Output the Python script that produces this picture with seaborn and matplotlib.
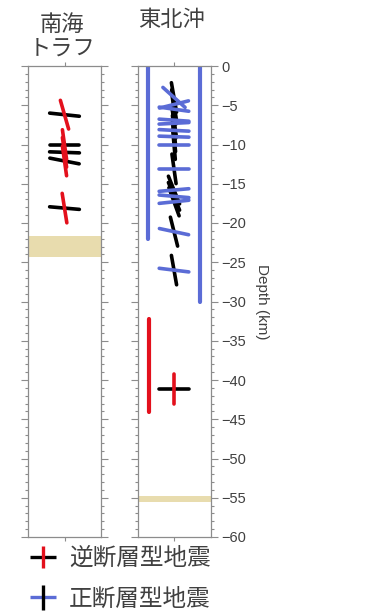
import numpy as np
import pandas as pd
import seaborn as sns
import matplotlib.pyplot as plt
from matplotlib.lines import Line2D
from matplotlib.legend_handler import HandlerTuple

# --- data (depth in km, tilt angles in degrees) ---
# Nankai trough: reverse-fault events (black = horizontal axis, red = vertical axis)
nankai_depth = [6.2, 10.0, 11.0, 12.1, 18.1]
nankai_black_tilt = [-6, 0, -2, -11, -5]
nankai_red_tilt = [-16, -8, -8, -8, -9]
nankai_band = (21.6, 24.3)

# Off Tohoku: normal-fault events (blue = horizontal axis, black = vertical axis)
tohoku_depth = [4.0, 4.9, 5.5, 6.9, 7.3, 8.2, 9.0, 10.0, 13.1, 15.8, 16.6, 17.3, 21.1, 26.0]
tohoku_blue_tilt = [-42, 14, -8, -4, 3, -3, -2, 0, 0, 5, -5, 6, -12, -7]
tohoku_black_tilt = [-10, -9, -8, -8, -7, -6, -6, -5, -8, -22, -22, -20, -14, -10]
# one deep reverse-fault event off Tohoku
tohoku_rev_depth = [41.1]
tohoku_rev_black_tilt = [0]
tohoku_rev_red_tilt = [0]
# depth ranges (top, bottom, type)
range_top = [0.0, 0.0, 32.2]
range_bottom = [22.0, 30.0, 44.1]
range_kind = ['normal', 'normal', 'reverse']
tohoku_band = (54.8, 55.6)

BAR = 3.8  # bar length in km units
RED = '#e3101c'
BLUE = '#5b6cd6'
TAN = '#e8dcae'
GREY = '#8c8c8c'
TXT = '#404040'


def bars(depths, tilts, color, vertical, start=0):
    rows = []
    for i, (d, t) in enumerate(zip(depths, tilts)):
        r = np.radians(t)
        if vertical:
            dx, dy = np.sin(r) * BAR / 2, np.cos(r) * BAR / 2
        else:
            dx, dy = np.cos(r) * BAR / 2, np.sin(r) * BAR / 2
        for s in (-1, 1):
            rows.append({'seg': f'{color}{start + i}', 'x': s * dx, 'y': -d + s * dy, 'c': color})
    return rows


sns.set_style('ticks')
plt.rcParams['font.family'] = ['Noto Sans CJK JP', 'DejaVu Sans']

fig = plt.figure(figsize=(3.82, 6.13), dpi=100)
W, H = 382, 613
top, bot = 66, 537
ax1 = fig.add_axes([28 / W, 1 - bot / H, 73 / W, (bot - top) / H])
ax2 = fig.add_axes([137.5 / W, 1 - bot / H, 73 / W, (bot - top) / H])

pal = {'black': 'black', 'red': RED, 'blue': BLUE}

# left panel
ax1.axhspan(-nankai_band[1], -nankai_band[0], color=TAN, lw=0, zorder=0)
df1 = pd.DataFrame(bars(nankai_depth, nankai_black_tilt, 'black', False)
                   + bars(nankai_depth, nankai_red_tilt, 'red', True))
sns.lineplot(data=df1, x='x', y='y', hue='c', units='seg', estimator=None, sort=False,
             palette=pal, hue_order=['black', 'red'], linewidth=2.6, legend=False, ax=ax1)

# right panel
ax2.axhspan(-tohoku_band[1], -tohoku_band[0], color=TAN, lw=0, zorder=0)
rx = {'normal': [-3.3, 3.3], 'reverse': [-3.2]}
rng = []
k = {'normal': 0, 'reverse': 0}
for t, b, kind in zip(range_top, range_bottom, range_kind):
    x = rx[kind][k[kind]]
    k[kind] += 1
    c = 'blue' if kind == 'normal' else 'red'
    rng += [{'seg': f'r{t}{b}', 'x': x, 'y': -t, 'c': c}, {'seg': f'r{t}{b}', 'x': x, 'y': -b, 'c': c}]
sns.lineplot(data=pd.DataFrame(rng), x='x', y='y', hue='c', units='seg', estimator=None, sort=False,
             palette=pal, linewidth=3.0, legend=False, ax=ax2)

df2 = pd.DataFrame(bars(tohoku_depth, tohoku_black_tilt, 'black', True)
                   + bars(tohoku_rev_depth, tohoku_rev_black_tilt, 'black', False, start=100)
                   + bars(tohoku_depth, tohoku_blue_tilt, 'blue', False)
                   + bars(tohoku_rev_depth, tohoku_rev_red_tilt, 'red', True, start=100))
sns.lineplot(data=df2, x='x', y='y', hue='c', units='seg', estimator=None, sort=False,
             palette=pal, hue_order=['black', 'blue', 'red'], linewidth=2.6, legend=False, ax=ax2)

for ax in (ax1, ax2):
    ax.set_xlim(-4.65, 4.65)
    ax.set_ylim(-60, 0)
    ax.set_xlabel('')
    ax.set_ylabel('')
    ax.set_xticks([0])
    ax.set_xticklabels([])
    ax.set_yticks(np.arange(-60, 1, 5))
    ax.set_yticks(np.arange(-60, 1, 1), minor=True)
    ax.tick_params(axis='x', top=True, bottom=True, direction='out', length=3, color=GREY, width=0.8)
    ax.tick_params(axis='y', which='both', left=True, right=True, direction='out', color=GREY, width=0.8)
    ax.tick_params(axis='y', which='major', length=5)
    ax.tick_params(axis='y', which='minor', length=2.5)
    for s in ax.spines.values():
        s.set_visible(True)
        s.set_color(GREY)
        s.set_linewidth(0.9)

ax1.set_yticklabels([])
ax2.tick_params(axis='y', labelleft=False, labelright=True, labelsize=10.5, labelcolor=TXT, pad=3)
for lab in ax2.get_yticklabels():
    lab.set_fontfamily('Liberation Sans')
ax2.yaxis.set_label_position('right')
ax2.set_ylabel('Depth (km)', rotation=270, fontsize=11, color=TXT, labelpad=16,
               fontfamily='Liberation Sans')

ax1.text(0.47, 1.014, '南海\nトラフ', transform=ax1.transAxes, ha='center', va='bottom',
         fontsize=16, color=TXT, linespacing=1.0)
ax2.text(0.46, 1.012 + 0.062, '東北沖', transform=ax2.transAxes, ha='center', va='bottom',
         fontsize=16, color=TXT)

# legend
h_rev = (Line2D([], [], color='black', marker='_', markersize=19, mew=2.4, ls='None'),
         Line2D([], [], color=RED, marker='|', markersize=16, mew=2.4, ls='None'))
h_nor = (Line2D([], [], color=BLUE, marker='_', markersize=19, mew=2.4, ls='None'),
         Line2D([], [], color='black', marker='|', markersize=18, mew=2.4, ls='None'))
fig.legend([h_rev, h_nor], ['逆断層型地震', '正断層型地震'],
           handler_map={tuple: HandlerTuple(ndivide=1, pad=0)},
           loc='upper left', bbox_to_anchor=(29 / W, 1 - 547 / H), frameon=False,
           fontsize=17, handlelength=1.2, handletextpad=0.5, labelspacing=0.75,
           borderpad=0, borderaxespad=0, labelcolor=TXT)

fig.savefig('out.png', dpi=100)
